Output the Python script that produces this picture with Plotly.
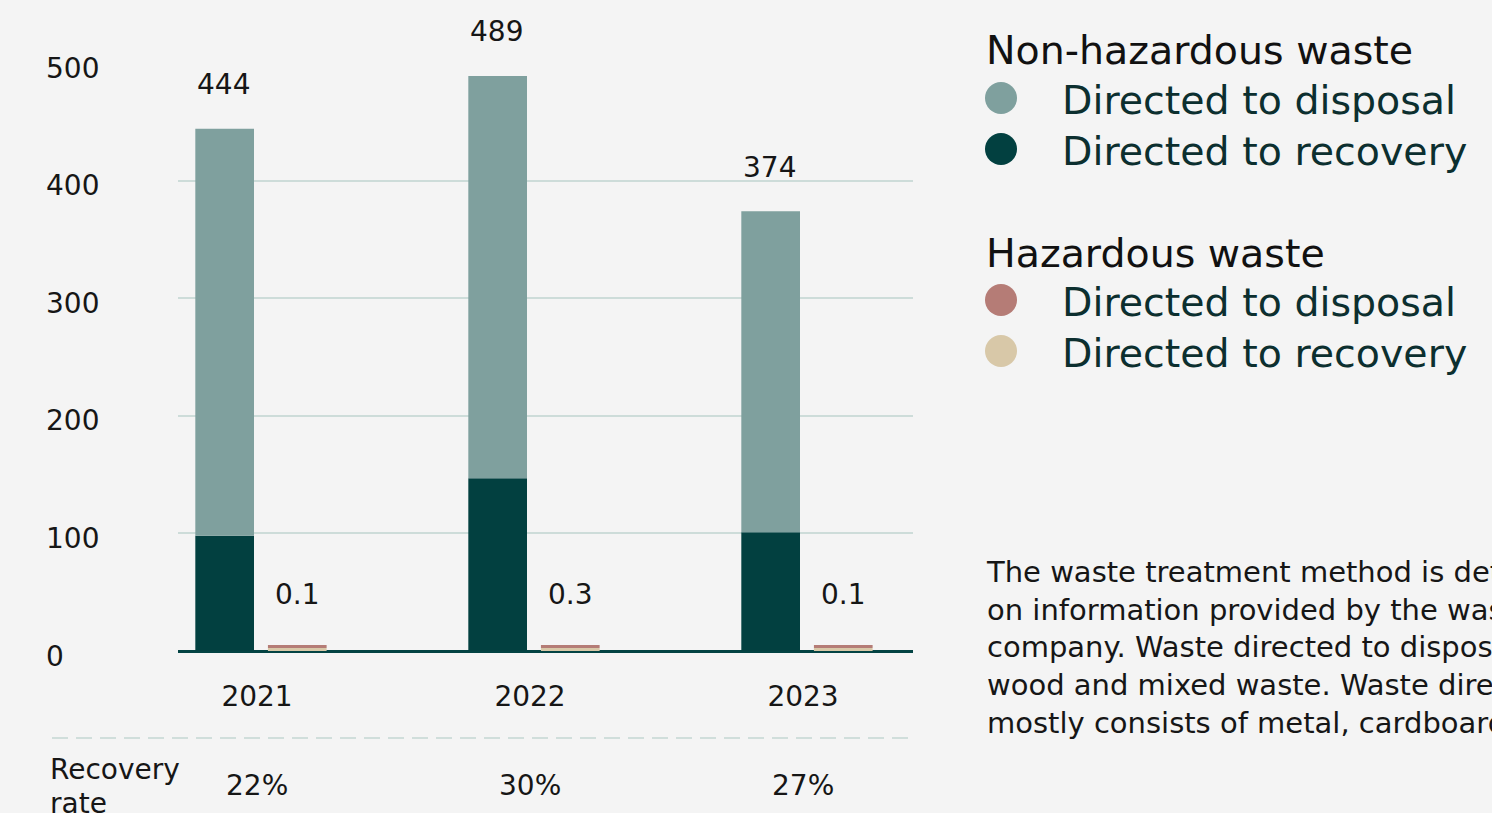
import plotly.graph_objects as go

# ---------------- data ----------------
years = ["2021", "2022", "2023"]
nonhaz_recovery = [98, 147, 101]
nonhaz_disposal = [346, 342, 273]
haz_total_labels = ["0.1", "0.3", "0.1"]
# hazardous bars are drawn with a small visible height in the reference
haz_recovery_drawn = [2.5, 2.5, 2.5]
haz_disposal_drawn = [2.5, 2.5, 2.5]
recovery_rate = ["22%", "30%", "27%"]
y_ticks = [0, 100, 200, 300, 400, 500]

legend_groups = ["Non-hazardous waste", "Hazardous waste"]
legend_items = ["Directed to disposal", "Directed to recovery"]
footnote_lines = [
    "The waste treatment method is determined based",
    "on information provided by the waste management",
    "company. Waste directed to disposal consists of",
    "wood and mixed waste. Waste directed to recovery",
    "mostly consists of metal, cardboard and paper.",
]

# ---------------- style ----------------
W, H = 1492, 813
L, R, T, B = 178, 913, 63, 651
BG = "#f4f4f4"
C_NH_DISP = "#7fa09e"
C_NH_REC = "#024040"
C_H_DISP = "#b57c76"
C_H_REC = "#d8c8a8"
FONT = "DejaVu Sans"
TXT = "#161616"
LEG_TXT = "#0c2f2f"


def px_x(px):
    return (px - L) / (R - L)


def px_y(py):
    return (B - py) / (B - T)


BAR_W = 0.215
NH_OFF = -0.226
H_OFF = 0.040

fig = go.Figure()
fig.add_trace(go.Bar(x=years, y=nonhaz_recovery, width=BAR_W, offset=NH_OFF,
                     marker=dict(color=C_NH_REC, line=dict(width=0)), showlegend=False))
fig.add_trace(go.Bar(x=years, y=nonhaz_disposal, base=nonhaz_recovery, width=BAR_W, offset=NH_OFF,
                     marker=dict(color=C_NH_DISP, line=dict(width=0)), showlegend=False))
fig.add_trace(go.Bar(x=years, y=haz_recovery_drawn, width=BAR_W, offset=H_OFF,
                     marker=dict(color=C_H_REC, line=dict(width=0)), showlegend=False))
fig.add_trace(go.Bar(x=years, y=haz_disposal_drawn, base=haz_recovery_drawn, width=BAR_W, offset=H_OFF,
                     marker=dict(color=C_H_DISP, line=dict(width=0)), showlegend=False))

annotations = []
# y tick labels (left aligned)
for v in y_ticks:
    annotations.append(dict(x=px_x(44), xref="paper", y=v, yref="y", yshift=-5,
                            text=str(v), showarrow=False, xanchor="left", yanchor="middle",
                            font=dict(family=FONT, size=28, color=TXT)))
# value labels (x given as category index)
for i, yr in enumerate(years):
    tot = nonhaz_recovery[i] + nonhaz_disposal[i]
    annotations.append(dict(x=i, xref="x", y=tot, yref="y", xshift=-34, yshift=44,
                            text=str(tot), showarrow=False, xanchor="center", yanchor="middle",
                            font=dict(family=FONT, size=28, color=TXT)))
    htot = haz_recovery_drawn[i] + haz_disposal_drawn[i]
    annotations.append(dict(x=i, xref="x", y=htot, yref="y", xshift=40, yshift=51,
                            text=haz_total_labels[i], showarrow=False, xanchor="center", yanchor="middle",
                            font=dict(family=FONT, size=28, color=TXT)))
    annotations.append(dict(x=i, xref="x", y=px_y(785), yref="paper",
                            text=recovery_rate[i], showarrow=False, xanchor="center", yanchor="middle",
                            font=dict(family=FONT, size=28, color=TXT)))
# recovery rate row label
annotations.append(dict(x=px_x(48), xref="paper", y=px_y(769), yref="paper", text="Recovery",
                        showarrow=False, xanchor="left", yanchor="middle",
                        font=dict(family=FONT, size=28, color=TXT)))
annotations.append(dict(x=px_x(48), xref="paper", y=px_y(804), yref="paper", text="rate",
                        showarrow=False, xanchor="left", yanchor="middle",
                        font=dict(family=FONT, size=28, color=TXT)))

# custom legend
shapes = []
group_y = [50, 253]
item_y = [[100, 151], [302, 353]]
item_colors = [[C_NH_DISP, C_NH_REC], [C_H_DISP, C_H_REC]]
for g, gname in enumerate(legend_groups):
    annotations.append(dict(x=px_x(984), xref="paper", y=px_y(group_y[g]), yref="paper", text=gname,
                            showarrow=False, xanchor="left", yanchor="middle",
                            font=dict(family=FONT, size=39.5, color="#111111")))
    for k, iname in enumerate(legend_items):
        shapes.append(dict(type="circle", xref="paper", yref="paper",
                           xsizemode="pixel", ysizemode="pixel",
                           xanchor=px_x(1001), yanchor=px_y(item_y[g][k] - 2),
                           x0=-16, x1=16, y0=-16, y1=16,
                           fillcolor=item_colors[g][k], line=dict(width=0)))
        annotations.append(dict(x=px_x(1060), xref="paper", y=px_y(item_y[g][k]), yref="paper", text=iname,
                                showarrow=False, xanchor="left", yanchor="middle",
                                font=dict(family=FONT, size=39.5, color=LEG_TXT)))

# footnote
annotations.append(dict(x=px_x(984), xref="paper", y=px_y(647), yref="paper",
                        text="<br>".join(footnote_lines), showarrow=False, xanchor="left",
                        yanchor="middle", align="left",
                        font=dict(family=FONT, size=29, color=TXT)))

# dashed separator
shapes.append(dict(type="line", xref="paper", yref="paper", x0=px_x(52), x1=px_x(915),
                   y0=px_y(738), y1=px_y(738), line=dict(color="#c3d6d2", width=1.5, dash="16px,8px")))

fig.update_layout(
    width=W, height=H,
    margin=dict(l=L, r=W - R, t=T, b=H - B, pad=0),
    paper_bgcolor=BG, plot_bgcolor=BG,
    barmode="overlay",
    showlegend=False,
    annotations=annotations,
    shapes=shapes,
    xaxis=dict(type="category", range=[-0.2894, 2.4029], showgrid=False, showline=False,
               zeroline=False, ticks="", ticklabelstandoff=26,
               tickfont=dict(family=FONT, size=28, color=TXT)),
    yaxis=dict(range=[0, 500], tickvals=y_ticks, showticklabels=False, showgrid=True,
               gridcolor="#cddcd9", gridwidth=1.5, zeroline=True, zerolinecolor="#034343",
               zerolinewidth=3, showline=False, ticks=""),
)

fig.write_html("out.html",
               config={"displayModeBar": False},
               post_script="document.body.style.margin='0';document.body.style.background='#f4f4f4';")
